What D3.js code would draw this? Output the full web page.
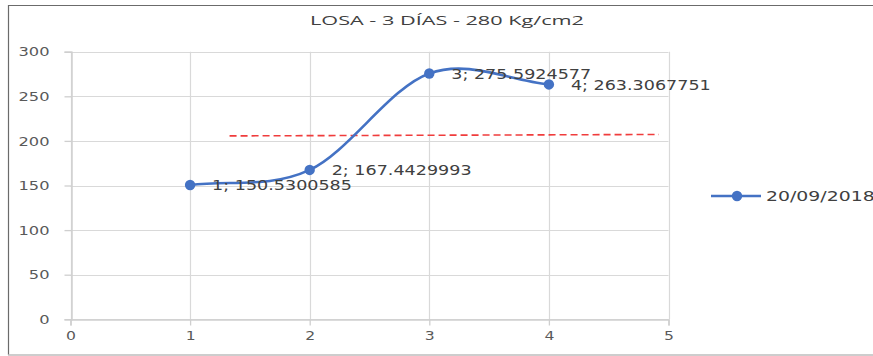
<!DOCTYPE html>
<html>
<head>
<meta charset="utf-8">
<script src="https://cdn.jsdelivr.net/npm/d3@7"></script>
<style>
  html, body { margin: 0; padding: 0; background: #fff; overflow: hidden; }
  svg { display: block; }
</style>
</head>
<body>
<svg id="chart" width="873" height="356"></svg>
<script>
// ---- data ----
const chartTitle = "LOSA - 3 DÍAS - 280 Kg/cm2";
const seriesName = "20/09/2018";
const categories = [1, 2, 3, 4];
const values = [150.5300585, 167.4429993, 275.5924577, 263.3067751];
const targetX = [1.33, 4.92];
const targetY = [205.6, 207.2];
const xTicks = [0, 1, 2, 3, 4, 5];
const yTicks = [0, 50, 100, 150, 200, 250, 300];

// ---- layout ----
const svg = d3.select("#chart");
const x = d3.scaleLinear().domain([0, 5]).range([70.5, 668.5]);
const y = d3.scaleLinear().domain([0, 300]).range([319.3, 51.7]);

function stretch(sel, k) {
  sel.each(function () {
    const w = this.getComputedTextLength();
    d3.select(this).attr("textLength", w * k).attr("lengthAdjust", "spacingAndGlyphs");
  });
}

// frame
svg.append("line").attr("x1", 8.5).attr("x2", 8.5).attr("y1", 5).attr("y2", 355).attr("stroke", "#6b6b6b").attr("stroke-width", 1.2);
svg.append("line").attr("x1", 8).attr("x2", 873).attr("y1", 5.5).attr("y2", 5.5).attr("stroke", "#6b6b6b").attr("stroke-width", 1.2);
svg.append("line").attr("x1", 8).attr("x2", 873).attr("y1", 355).attr("y2", 355).attr("stroke", "#bdbdbd").attr("stroke-width", 1.5);

// title
const t = svg.append("text").attr("x", 447).attr("y", 25).attr("text-anchor", "middle")
  .attr("font-family", "'Open Sans', 'Liberation Sans', sans-serif").attr("font-size", 13.5)
  .attr("fill", "#404040").text(chartTitle);
t.attr("textLength", 274).attr("lengthAdjust", "spacingAndGlyphs");

// gridlines
const grid = svg.append("g");
grid.selectAll(".hg").data(yTicks).join("line")
  .attr("x1", x(0)).attr("x2", x(5))
  .attr("y1", d => Math.round(y(d)) + 0.5).attr("y2", d => Math.round(y(d)) + 0.5)
  .attr("stroke", "#d9d9d9").attr("stroke-width", 1.2);
grid.selectAll(".vg").data(xTicks).join("line")
  .attr("x1", d => Math.round(x(d)) + 0.5).attr("x2", d => Math.round(x(d)) + 0.5)
  .attr("y1", y(300)).attr("y2", y(0))
  .attr("stroke", "#d9d9d9").attr("stroke-width", 1.2);

// axes
const yAxis = svg.append("g").attr("transform", `translate(${Math.round(x(0)) + 0.5},0)`)
  .call(d3.axisLeft(y).tickValues(yTicks).tickSize(7).tickPadding(15));
const xAxis = svg.append("g").attr("transform", `translate(0,${Math.round(y(0)) + 0.5})`)
  .call(d3.axisBottom(x).tickValues(xTicks).tickFormat(d3.format("d")).tickSize(6).tickPadding(5));
[yAxis, xAxis].forEach(a => {
  a.select(".domain").attr("stroke", "#cfcfcf").attr("stroke-width", 1.5);
  a.selectAll(".tick line").attr("stroke", "#cfcfcf").attr("stroke-width", 1.3);
  a.selectAll("text").attr("font-family", "'DejaVu Sans', Verdana, sans-serif")
    .attr("font-size", 13).attr("fill", "#595959");
});
stretch(yAxis.selectAll("text"), 1.25);
stretch(xAxis.selectAll("text"), 1.2);

// target dashed line
svg.append("line")
  .attr("x1", x(targetX[0])).attr("x2", x(targetX[1]))
  .attr("y1", y(targetY[0])).attr("y2", y(targetY[1]))
  .attr("stroke", "#f03c3c").attr("stroke-width", 1.6).attr("stroke-dasharray", "7,4");

// series line: Excel-like smoothed Bezier through scaled points
const pts = categories.map((c, i) => [c, values[i]]);
const P = pts.map(d => [x(d[0]), y(d[1])]);
function tangent(i) {
  const n = P.length;
  if (i === 0) return [(P[1][0] - P[0][0]) / 3, (P[1][1] - P[0][1]) / 3];
  if (i === n - 1) return [(P[n - 1][0] - P[n - 2][0]) / 3, (P[n - 1][1] - P[n - 2][1]) / 3];
  return [(P[i + 1][0] - P[i - 1][0]) / 6, (P[i + 1][1] - P[i - 1][1]) / 6];
}
const path = d3.path();
path.moveTo(P[0][0], P[0][1]);
for (let i = 0; i < P.length - 1; i++) {
  const t0 = tangent(i), t1 = tangent(i + 1);
  path.bezierCurveTo(P[i][0] + t0[0], P[i][1] + t0[1],
                     P[i + 1][0] - t1[0], P[i + 1][1] - t1[1],
                     P[i + 1][0], P[i + 1][1]);
}
svg.append("path").attr("d", path.toString()).attr("fill", "none")
  .attr("stroke", "#4472C4").attr("stroke-width", 2.6);
svg.selectAll(".pt").data(pts).join("circle")
  .attr("cx", d => x(d[0])).attr("cy", d => y(d[1])).attr("r", 5.2).attr("fill", "#4472C4");

// data labels
const labels = svg.selectAll(".lbl").data(pts).join("text")
  .attr("x", d => x(d[0]) + 22).attr("y", d => y(d[1]))
  .attr("dy", "0.36em")
  .attr("font-family", "'DejaVu Sans', Verdana, sans-serif").attr("font-size", 14.5)
  .attr("fill", "#404040")
  .text(d => `${d[0]}; ${d[1]}`);
stretch(labels, 1.21);

// legend
const lg = svg.append("g");
lg.append("line").attr("x1", 711).attr("x2", 761).attr("y1", 196).attr("y2", 196)
  .attr("stroke", "#4472C4").attr("stroke-width", 2.6);
lg.append("circle").attr("cx", 737).attr("cy", 196).attr("r", 5.2).attr("fill", "#4472C4");
const lt = lg.append("text").attr("x", 766).attr("y", 196).attr("dy", "0.36em")
  .attr("font-family", "'DejaVu Sans', Verdana, sans-serif").attr("font-size", 14.5)
  .attr("fill", "#404040").text(seriesName);
stretch(lt, 1.3);
</script>
</body>
</html>
